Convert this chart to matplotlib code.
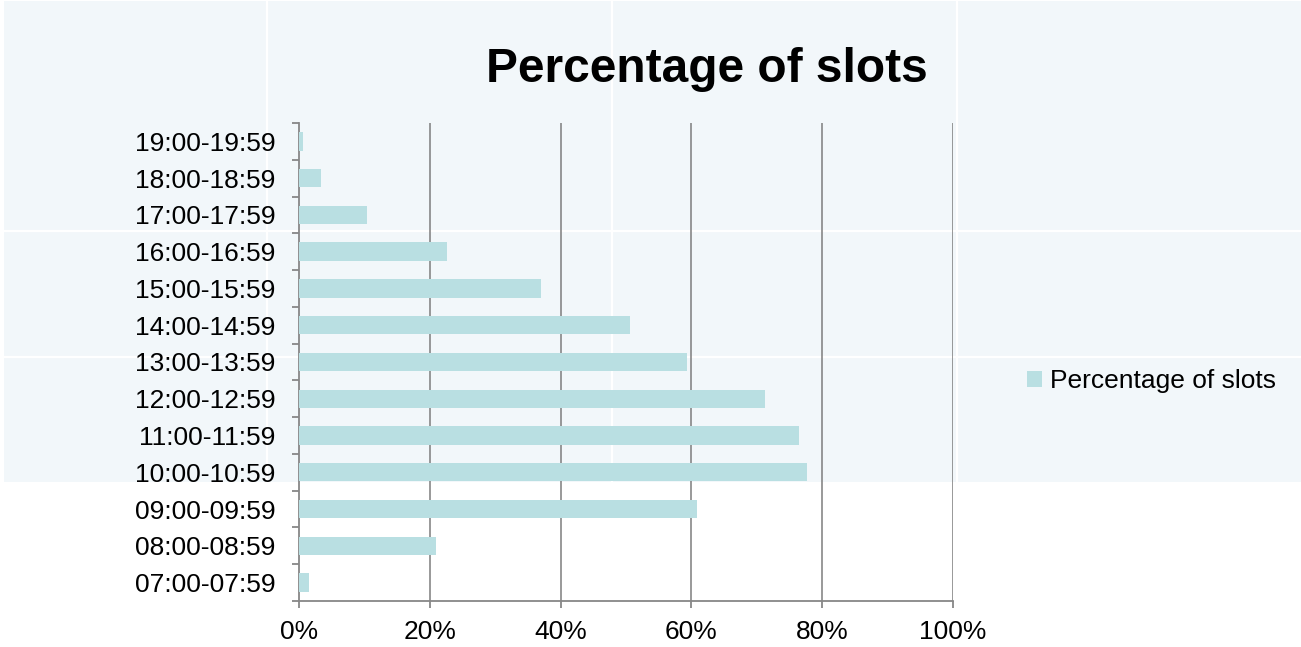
import matplotlib.pyplot as plt
import matplotlib.patches as mpatches
from matplotlib.lines import Line2D
import numpy as np

plt.rcParams['font.family'] = ['Liberation Sans', 'DejaVu Sans']

# creneaux horaires, du bas vers le haut
creneaux = ["07:00-07:59", "08:00-08:59", "09:00-09:59", "10:00-10:59",
            "11:00-11:59", "12:00-12:59", "13:00-13:59", "14:00-14:59",
            "15:00-15:59", "16:00-16:59", "17:00-17:59", "18:00-18:59",
            "19:00-19:59"]
pourcentages = [1.5, 21.0, 60.8, 77.7, 76.5, 71.3, 59.3, 50.6,
                37.0, 22.7, 10.4, 3.3, 0.6]
graduations = [0, 20, 40, 60, 80, 100]
nom_serie = "Percentage of slots"

gris = "#878787"
couleur_barre = "#B9DFE2"
fond = "#F2F7FA"

W, H = 1301, 647
fig = plt.figure(figsize=(W / 100, H / 100), dpi=100)

# panneau de fond bleu clair avec ses jointures blanches
fig.patches.append(mpatches.Rectangle((4 / W, 1 - 482 / H), 1 - 4 / W, (482 - 1) / H,
                                      transform=fig.transFigure, facecolor=fond,
                                      edgecolor='none', zorder=-2))
for xs in [267, 612, 957]:
    fig.lines.append(Line2D([xs / W, xs / W], [1 - 482 / H, 1 - 1 / H],
                            transform=fig.transFigure, color='white', lw=1.6, zorder=-1))
for ys in [231, 357]:
    fig.lines.append(Line2D([4 / W, 1], [1 - ys / H, 1 - ys / H],
                            transform=fig.transFigure, color='white', lw=1.6, zorder=-1))

ax = fig.add_axes([299 / W, 1 - 601 / H, (953 - 299) / W, (601 - 123) / H])
ax.set_zorder(2)
ax.patch.set_alpha(0)

y = np.arange(len(creneaux))
ax.barh(y, pourcentages, height=0.5, color=couleur_barre, label=nom_serie, zorder=3)

ax.set_xlim(0, 100)
ax.set_ylim(-0.5, len(creneaux) - 0.5)
ax.set_xticks(graduations)
ax.set_xticklabels([f"{g}%" for g in graduations])
ax.set_yticks(y)
ax.set_yticklabels(creneaux)
ax.set_yticks(np.arange(-0.5, len(creneaux), 1), minor=True)

for g in graduations[1:]:
    ax.axvline(g, color=gris, lw=1.2, zorder=1)

for s in ['top', 'right']:
    ax.spines[s].set_visible(False)
for s in ['left', 'bottom']:
    ax.spines[s].set_color(gris)
    ax.spines[s].set_linewidth(1.3)

ax.tick_params(axis='y', which='major', length=0, pad=17, labelsize=19)
ax.tick_params(axis='y', which='minor', length=5, width=1.3, color=gris, direction='out')
ax.tick_params(axis='x', which='major', length=5, width=1.3, color=gris, pad=9, labelsize=19)

fig.text(707 / W, 1 - 70 / H, "Percentage of slots", ha='center', va='center',
         fontsize=34.5, fontweight='bold')

ax.legend(loc='center left', bbox_to_anchor=(1014 / W, 1 - 381 / H),
          bbox_transform=fig.transFigure, frameon=False, fontsize=19,
          handlelength=0.55, handleheight=0.55, handletextpad=0.3, borderpad=0)

fig.savefig("out.png", dpi=100)
